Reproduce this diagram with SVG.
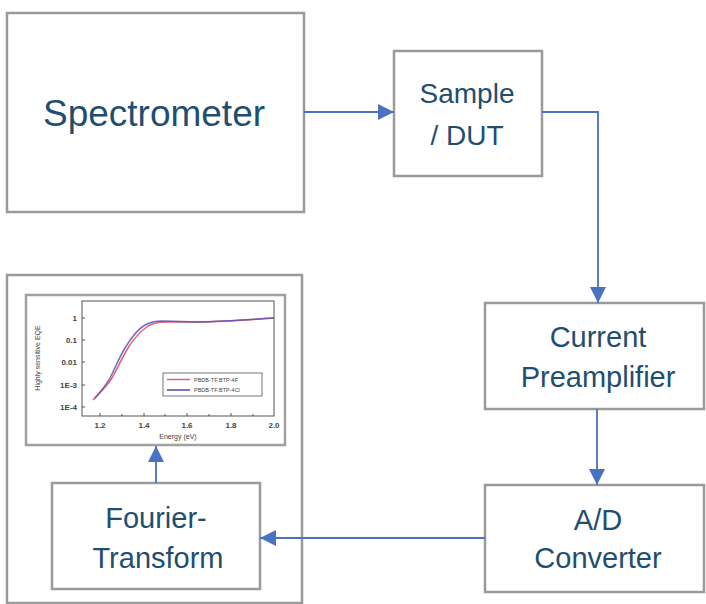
<svg xmlns="http://www.w3.org/2000/svg" width="706" height="604" viewBox="0 0 706 604">
<style>
.box{fill:#ffffff;stroke:#9a9a9a;stroke-width:2.5}
.lbl{font-family:"Liberation Sans",Arial,sans-serif;fill:#1f4e6f;text-anchor:middle}
.conn{fill:none;stroke:#4a72c0;stroke-width:1.8}
.ax{font-family:"Liberation Sans",Arial,sans-serif;font-size:8px;fill:#444;font-weight:bold}
.lg{font-family:"Liberation Sans",Arial,sans-serif;font-size:5.5px;fill:#444}
.tick{stroke:#555;stroke-width:1}
</style>
<defs>
<marker id="arr" viewBox="0 0 16 16" refX="16" refY="8" markerWidth="16" markerHeight="16" markerUnits="userSpaceOnUse" orient="auto">
<path d="M0,0 L16,8 L0,16 z" fill="#4a72c0"/>
</marker>
</defs>
<rect width="706" height="604" fill="#ffffff"/>

<g id="spectrometer">
<rect class="box" x="7" y="13" width="297" height="199"/>
<text class="lbl" x="154" y="126" font-size="37">Spectrometer</text>
</g>

<g id="sample">
<rect class="box" x="394" y="51" width="148" height="125"/>
<text class="lbl" x="467" y="103" font-size="28">Sample</text>
<text class="lbl" x="467" y="145" font-size="28">/ DUT</text>
</g>

<g id="preamp">
<rect class="box" x="485" y="303" width="219" height="106"/>
<text class="lbl" x="598" y="347" font-size="29">Current</text>
<text class="lbl" x="598" y="387" font-size="29">Preamplifier</text>
</g>

<g id="adconverter">
<rect class="box" x="485" y="485" width="219" height="107"/>
<text class="lbl" x="598" y="530" font-size="29">A/D</text>
<text class="lbl" x="598" y="568" font-size="29">Converter</text>
</g>

<g id="output">
<rect class="box" x="7" y="275" width="295" height="328"/>
<g id="chart">
<rect x="26" y="295" width="259" height="150" fill="#ffffff" stroke="#a0a0a0" stroke-width="2.5"/>
<rect x="82" y="301" width="192" height="115" fill="none" stroke="#555" stroke-width="1"/>
<g class="tick">
<line x1="82" y1="318" x2="85" y2="318"/>
<line x1="82" y1="340" x2="85" y2="340"/>
<line x1="82" y1="362" x2="85" y2="362"/>
<line x1="82" y1="385" x2="85" y2="385"/>
<line x1="82" y1="407" x2="85" y2="407"/>
<line x1="100" y1="416" x2="100" y2="413"/>
<line x1="122" y1="416" x2="122" y2="414"/>
<line x1="144" y1="416" x2="144" y2="413"/>
<line x1="165" y1="416" x2="165" y2="414"/>
<line x1="187" y1="416" x2="187" y2="413"/>
<line x1="209" y1="416" x2="209" y2="414"/>
<line x1="231" y1="416" x2="231" y2="413"/>
<line x1="253" y1="416" x2="253" y2="414"/>
</g>
<g class="ax" text-anchor="end">
<text x="77" y="321">1</text>
<text x="77" y="343">0.1</text>
<text x="77" y="365">0.01</text>
<text x="77" y="388">1E-3</text>
<text x="77" y="410">1E-4</text>
</g>
<g class="ax" text-anchor="middle">
<text x="100" y="428">1.2</text>
<text x="144" y="428">1.4</text>
<text x="187" y="428">1.6</text>
<text x="231" y="428">1.8</text>
<text x="274" y="428">2.0</text>
</g>
<text x="178" y="439" font-family="'Liberation Sans',Arial,sans-serif" font-size="7" fill="#444" text-anchor="middle">Energy (eV)</text>
<text transform="translate(40,358) rotate(-90)" font-family="'Liberation Sans',Arial,sans-serif" font-size="7" fill="#444" text-anchor="middle">Highly sensitive EQE</text>
<path d="M93,400 C101,392 107,386 112,378 C118,367 122,358 128,348 C134,338 141,331 148,326 C153,323 158,322 165,322 L200,322 C220,322 245,320 274,318" fill="none" stroke="#e06070" stroke-width="1.5"/>
<path d="M95,398 C102,390 106,385 110,378 C116,366 119,358 125,348 C131,338 138,329 145,325 C150,322 155,321 162,321 L200,322 C220,322 240,320 274,318" fill="none" stroke="#5a52b8" stroke-width="1.5" opacity="0.85"/>
<rect x="163" y="373" width="99" height="23" fill="#ffffff" stroke="#555" stroke-width="0.8"/>
<line x1="167" y1="379.5" x2="190" y2="379.5" stroke="#e06070" stroke-width="1.5"/>
<line x1="167" y1="390" x2="190" y2="390" stroke="#4a4ab0" stroke-width="1.5"/>
<text class="lg" x="194" y="381.5">PBDB-TF:BTP-4F</text>
<text class="lg" x="194" y="392">PBDB-TF:BTP-4Cl</text>
</g>
</g>

<g id="fourier">
<rect class="box" x="52" y="483" width="208" height="106"/>
<text class="lbl" x="156" y="528" font-size="29">Fourier-</text>
<text class="lbl" x="158" y="568" font-size="29">Transform</text>
</g>

<g id="connectors">
<line class="conn" x1="304" y1="112" x2="394" y2="112" marker-end="url(#arr)"/>
<polyline class="conn" points="542,112 598,112 598,303" marker-end="url(#arr)"/>
<line class="conn" x1="597" y1="409" x2="597" y2="485" marker-end="url(#arr)"/>
<line class="conn" x1="485" y1="538" x2="260" y2="538" marker-end="url(#arr)"/>
<line class="conn" x1="156" y1="483" x2="156" y2="446" marker-end="url(#arr)"/>
</g>
</svg>
